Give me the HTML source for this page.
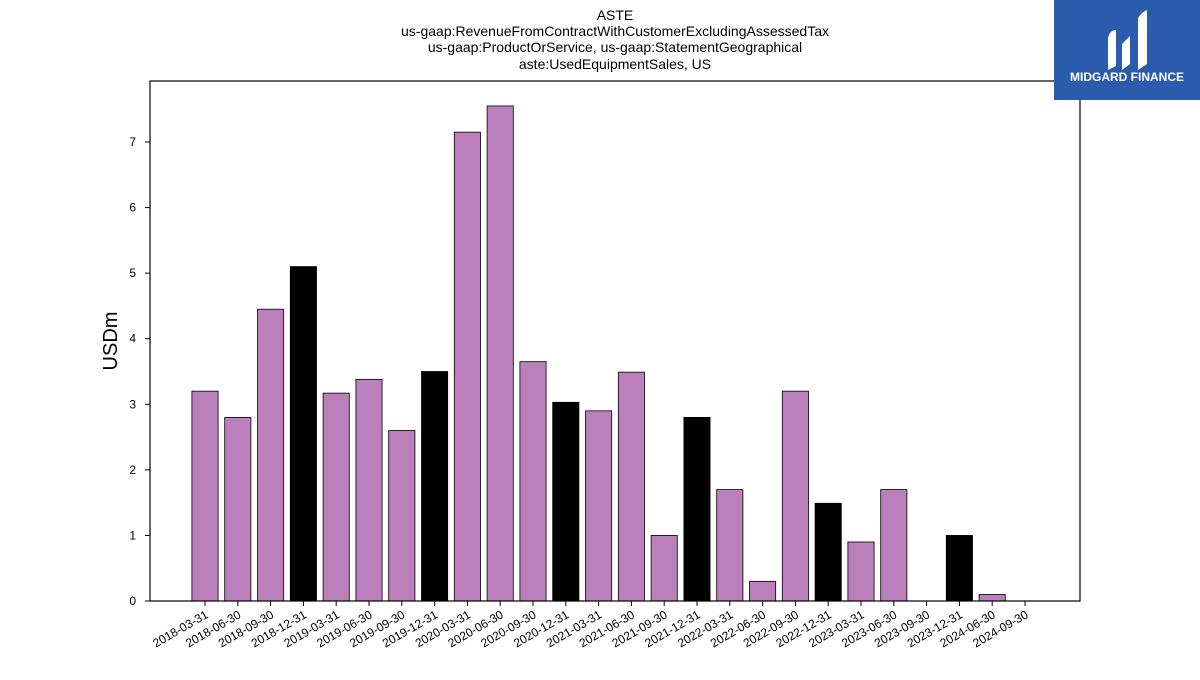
<!DOCTYPE html>
<html><head><meta charset="utf-8"><style>
body{margin:0;background:#fff;width:1200px;height:675px;overflow:hidden;font-family:"Liberation Sans","DejaVu Sans",sans-serif;}
</style></head><body>
<svg id="chart" width="1200" height="675" xmlns="http://www.w3.org/2000/svg">
<g font-size="14" text-anchor="middle" fill="#000">
<text x="615" y="20">ASTE</text>
<text x="615" y="36">us-gaap:RevenueFromContractWithCustomerExcludingAssessedTax</text>
<text x="615" y="52">us-gaap:ProductOrService, us-gaap:StatementGeographical</text>
<text x="615" y="69">aste:UsedEquipmentSales, US</text>
</g>
<g id="bars"></g>
<g id="axes"></g>
<rect x="150" y="81" width="930" height="520" fill="none" stroke="#000" stroke-width="1.2"/>
<text x="117" y="341" font-size="20" text-anchor="middle" transform="rotate(-90 117 341)">USDm</text>
<g>
<rect x="1054" y="0" width="146" height="100" fill="#2b5bad"/>
<path d="M1108 70 L1108 38 Q1110 30 1116 30 L1116 66 Z M1122 70 L1122 44 L1130 36 L1130 64 Z M1138 70 L1138 18 Q1142 12 1147 10 L1147 64 Z" fill="#fff"/>
<text x="1127" y="81" font-size="12" font-weight="bold" fill="#fff" text-anchor="middle">MIDGARD FINANCE</text>
</g>
</svg>
<script>
const categories=["2018-03-31","2018-06-30","2018-09-30","2018-12-31","2019-03-31","2019-06-30","2019-09-30","2019-12-31","2020-03-31","2020-06-30","2020-09-30","2020-12-31","2021-03-31","2021-06-30","2021-09-30","2021-12-31","2022-03-31","2022-06-30","2022-09-30","2022-12-31","2023-03-31","2023-06-30","2023-09-30","2023-12-31","2024-06-30","2024-09-30"];
const values=[3.2,2.8,4.45,5.1,3.17,3.38,2.6,3.5,7.15,7.55,3.65,3.03,2.9,3.49,1.0,2.8,1.7,0.3,3.2,1.49,0.9,1.7,0,1.0,0.1,0];
const yearEnd=[false,false,false,true,false,false,false,true,false,false,false,true,false,false,false,true,false,false,false,true,false,false,false,true,false,false];
const yTicks=[0,1,2,3,4,5,6,7];
const NS="http://www.w3.org/2000/svg";
const y0=601, yUnit=(601-142)/7;
const xFirst=205, step=(1025-205)/(categories.length-1), bw=26.2;
const y=v=>y0-v*yUnit;
const x=i=>xFirst+i*step;
const bars=document.getElementById('bars'), axes=document.getElementById('axes');
values.forEach((v,i)=>{
 const r=document.createElementNS(NS,'rect');
 r.setAttribute('x',x(i)-bw/2);r.setAttribute('y',y(v));r.setAttribute('width',bw);r.setAttribute('height',y0-y(v));
 r.setAttribute('fill',yearEnd[i]?'#000':'#bb7fbb');r.setAttribute('stroke','#000');r.setAttribute('stroke-width','0.8');
 
 
 bars.appendChild(r);
});
categories.forEach((c,i)=>{
 const t=document.createElementNS(NS,'line');
 t.setAttribute('x1',x(i));t.setAttribute('x2',x(i));t.setAttribute('y1',601);t.setAttribute('y2',606);t.setAttribute('stroke','#000');
 
 
 axes.appendChild(t);
 const l=document.createElementNS(NS,'text');
 l.setAttribute('x',x(i)+4);l.setAttribute('y',617);l.setAttribute('font-size','12');l.setAttribute('text-anchor','end');
 l.setAttribute('transform','rotate(-30 '+(x(i)+4)+' 617)');l.textContent=c;
 
 
 axes.appendChild(l);
});
yTicks.forEach(v=>{
 const t=document.createElementNS(NS,'line');
 t.setAttribute('x1',145);t.setAttribute('x2',150);t.setAttribute('y1',y(v));t.setAttribute('y2',y(v));t.setAttribute('stroke','#000');
 
 
 axes.appendChild(t);
 const l=document.createElementNS(NS,'text');
 l.setAttribute('x',136);l.setAttribute('y',y(v)+4);l.setAttribute('font-size','12');l.setAttribute('text-anchor','end');l.textContent=v;
 
 
 axes.appendChild(l);
});
</script>
</body></html>
